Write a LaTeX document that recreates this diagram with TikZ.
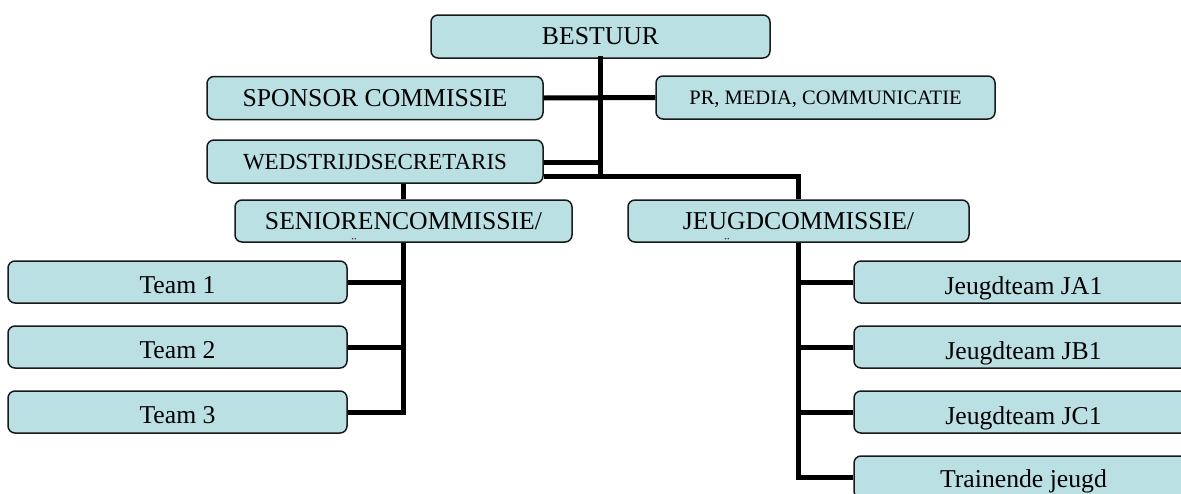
\documentclass[tikz,border=0pt]{standalone}
\usepackage{fontspec}
\setmainfont{Liberation Serif}
\begin{document}
\begin{tikzpicture}[x=1pt,y=-1pt,
  box/.style={draw=black!90, line width=1.5pt, rounded corners=7pt, fill=boxfill,
    minimum width=339pt, minimum height=42pt, inner sep=0pt, text height=17pt, text depth=0pt,
    font=\fontsize{25.7pt}{30pt}\selectfont},
  lowtext/.style={text height=22pt},
  dots/.style={font=\fontsize{16pt}{18pt}\selectfont, inner sep=0pt, text=black!80},
  conn/.style={line width=5pt, black, line cap=butt, line join=miter}
]
\definecolor{boxfill}{RGB}{187,224,227}
\useasboundingbox (0,0) rectangle (1181,493);
\clip (0,0) rectangle (1181,493);

\node[box, minimum height=43pt, text height=15.5pt] (bestuur) at (600.5,36.5) {BESTUUR};
\node[box, minimum width=336pt, minimum height=43pt] (sponsor) at (375,98) {SPONSOR COMMISSIE};
\node[box, minimum height=43pt, font=\fontsize{20.5pt}{24pt}\selectfont, text height=13.6pt] (pr) at (825.5,97.5) {PR, MEDIA, COMMUNICATIE};
\node[box, minimum width=336pt, minimum height=43pt, font=\fontsize{23pt}{27pt}\selectfont, text height=15.2pt] (wed) at (375,161.5) {WEDSTRIJDSECRETARIS};
\node[box, minimum width=337pt] (senior) at (403.5,221) {SENIORENCOMMISSIE/};
\node[box, minimum width=341pt] (jeugd) at (798.5,221) {JEUGDCOMMISSIE/};
\node[dots] (sdots) at (354,243) {¨};
\node[dots] (jdots) at (727,243) {¨};

\node[box, lowtext] (t1) at (177.5,282) {Team 1};
\node[box, lowtext] (t2) at (177.5,347) {Team 2};
\node[box, lowtext] (t3) at (177.5,412) {Team 3};

\node[box, text height=24pt] (ja) at (1023.5,282) {Jeugdteam JA1};
\node[box, text height=24pt] (jb) at (1023.5,347) {Jeugdteam JB1};
\node[box, text height=24pt] (jc) at (1023.5,412) {Jeugdteam JC1};
\node[box, text height=20pt] (tr) at (1023.5,477) {Trainende jeugd};

\coordinate (hub) at (600.5,176);
\coordinate (wj) at (600.5,162);

% top structure
\draw[conn, line cap=rect] (bestuur.south) -- (hub);
\draw[conn] (sponsor.east) -- (pr.west);
\draw[conn] (wed.east |- wj) -- (wj);
\draw[conn] (wed.east |- hub) -| (jeugd.north);
\draw[conn] (senior.north |- wed.south) -- (senior.north);

% senior branch
\draw[conn] (senior.south) |- (t3.east);
\draw[conn] (t1.east) -- (t1.east -| senior.south);
\draw[conn] (t2.east) -- (t2.east -| senior.south);

% jeugd branch
\draw[conn] (jeugd.south) |- (tr.west);
\draw[conn] (ja.west) -- (ja.west -| jeugd.south);
\draw[conn] (jb.west) -- (jb.west -| jeugd.south);
\draw[conn] (jc.west) -- (jc.west -| jeugd.south);

% redraw boxes' borders over the connector ends
\end{tikzpicture}
\end{document}
